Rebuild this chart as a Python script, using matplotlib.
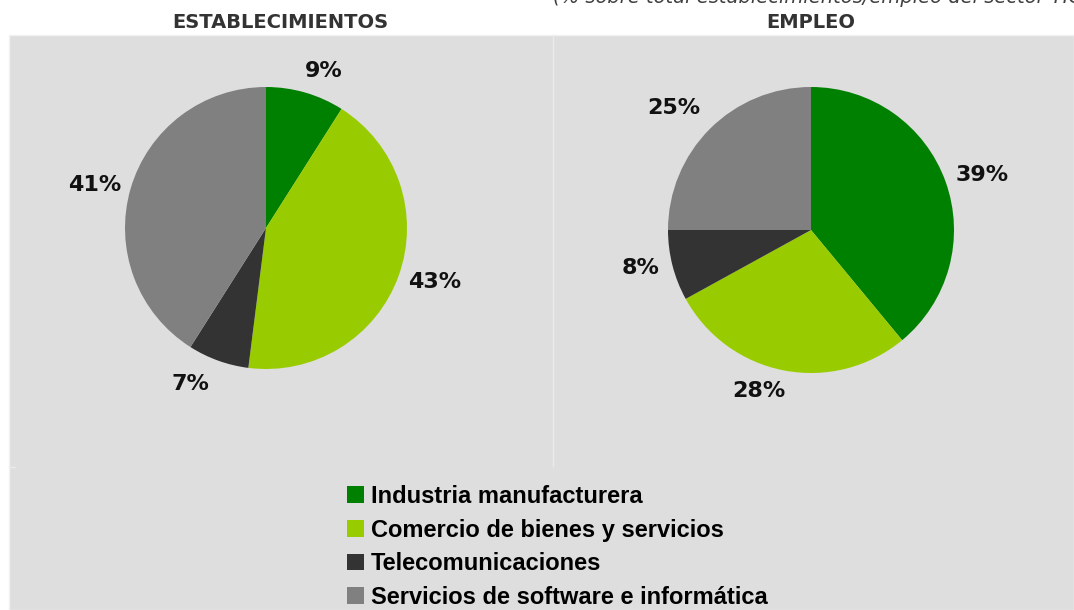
import matplotlib
matplotlib.use("Agg")
import matplotlib.pyplot as plt
from matplotlib.patches import Rectangle, Patch
from matplotlib.lines import Line2D

categories = ["Industria manufacturera", "Comercio de bienes y servicios",
              "Telecomunicaciones", "Servicios de software e informática"]
establecimientos = [9, 43, 7, 41]
empleo = [39, 28, 8, 25]
colors = ["#008000", "#99cc00", "#333333", "#808080"]
titles = ["ESTABLECIMIENTOS", "EMPLEO"]
subtitle = "(% sobre total establecimientos/empleo del sector TIC"

W, H = 1074, 610
fig = plt.figure(figsize=(W / 100, H / 100), dpi=100, facecolor="white")

def fx(px):
    return px / W

def fy(py):
    return 1 - py / H

# background panel
fig.patches.append(Rectangle((fx(9), 0), 1 - fx(9), fy(35), transform=fig.transFigure,
                             facecolor="#dedede", edgecolor="#f2f2f2", linewidth=1, zorder=-5))
fig.lines.append(Line2D([fx(552.5), fx(552.5)], [fy(35), fy(466)], transform=fig.transFigure,
                        color="#ebebeb", linewidth=1, zorder=-4))
fig.lines.append(Line2D([fx(9), fx(15)], [fy(466.5), fy(466.5)], transform=fig.transFigure,
                        color="#ebebeb", linewidth=1, zorder=-4))

def draw_pie(values, cx, cy, r, title, tx, nudges):
    s = 3 * r
    ax = fig.add_axes([fx(cx - s / 2), fy(cy + s / 2), s / W, s / H])
    wedges, texts = ax.pie(values, colors=colors, startangle=90, counterclock=False,
                           radius=1, labels=[f"{v}%" for v in values], labeldistance=1.23,
                           wedgeprops=dict(linewidth=0),
                           textprops=dict(fontsize=16, fontweight="bold", color="#111111",
                                          family="DejaVu Sans"))
    ax.set_xlim(-1.5, 1.5)
    ax.set_ylim(-1.5, 1.5)
    ax.axis("off")
    ax.patch.set_visible(False)
    for t, (ndx, ndy) in zip(texts, nudges):
        t.set_ha("center")
        t.set_va("center")
        x, y = t.get_position()
        t.set_position((x + ndx / r, y - ndy / r))
    fig.text(fx(tx), fy(22), title, ha="center", va="center", fontsize=14,
             fontweight="bold", color="#333333", family="DejaVu Sans")
    return ax

# small pixel nudges of the label placement (right, down)
draw_pie(establecimientos, 266, 228, 141, titles[0], 280,
         [(9, 10), (5, -5), (-17, -7), (-5, 5)])
draw_pie(empleo, 811, 230, 143, titles[1], 811,
         [(6, 5), (-19, -12), (0, -6), (-13, 2)])

fig.text(fx(553), fy(3), subtitle, ha="left", va="baseline", fontsize=14,
         style="italic", color="#404040", family="DejaVu Sans")

handles = [Patch(facecolor=c, edgecolor="none") for c in colors]
fig.legend(handles, categories, loc="upper left", bbox_to_anchor=(fx(347), fy(485)),
           frameon=False, borderpad=0, borderaxespad=0, handlelength=0.7,
           handleheight=0.7, handletextpad=0.3, labelspacing=0.45,
           prop=dict(family="Liberation Sans", weight="bold", size=17))

fig.savefig("out.png", dpi=100, facecolor="white")
